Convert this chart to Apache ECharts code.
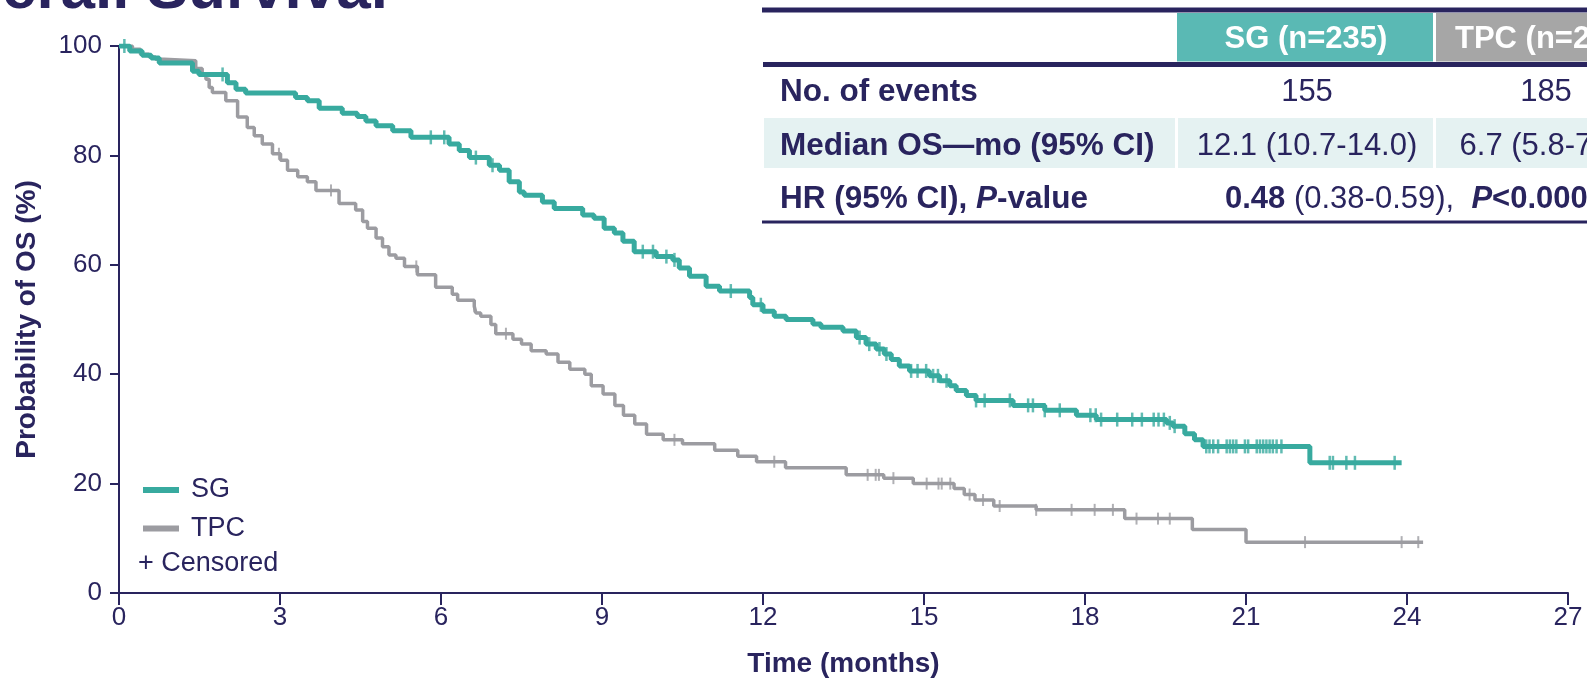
<!DOCTYPE html>
<html>
<head>
<meta charset="utf-8">
<script src="https://cdn.jsdelivr.net/npm/echarts@6/dist/echarts.min.js"></script>
<style>
html,body{margin:0;padding:0;background:#fff;}
#chart{width:1587px;height:683px;}
</style>
</head>
<body>
<div id="chart"></div>
<script>
// ---- data ----
var xTicks = [0, 3, 6, 9, 12, 15, 18, 21, 24, 27];
var yTicks = [0, 20, 40, 60, 80, 100];

var sgTime = [0, 0.2, 0.43, 0.6, 0.75, 1.37, 1.49, 2.02, 2.18, 2.36, 3.29, 3.51, 3.73, 4.16, 4.44, 4.6, 4.79, 5.1, 5.44, 6.15, 6.34, 6.53, 6.9, 7.09, 7.27, 7.46, 7.55, 7.89, 8.11, 8.64, 8.85, 9.04, 9.23, 9.39, 9.6, 10.01, 10.32, 10.44, 10.63, 10.94, 11.19, 11.75, 11.81, 12.0, 12.21, 12.43, 12.93, 13.08, 13.49, 13.74, 13.92, 14.11, 14.26, 14.39, 14.54, 14.73, 15.1, 15.29, 15.48, 15.6, 15.79, 15.97, 16.66, 17.25, 17.84, 18.21, 19.52, 19.64, 19.86, 20.04, 20.2, 22.19, 23.9];
var sgSurv = [100, 99.1, 98.3, 97.8, 96.9, 95.4, 94.8, 93.3, 92.1, 91.4, 90.6, 90.0, 88.6, 87.7, 87.1, 86.3, 85.4, 84.5, 83.3, 82.1, 80.9, 79.6, 78.2, 77.3, 75.2, 73.3, 72.7, 71.5, 70.3, 69.1, 68.5, 66.7, 65.8, 64.3, 62.4, 61.5, 60.9, 59.4, 57.9, 56.1, 55.2, 54.0, 52.7, 51.5, 50.6, 50.0, 49.2, 48.6, 47.9, 46.7, 45.5, 44.6, 43.7, 42.7, 41.5, 40.6, 39.7, 38.8, 37.9, 37.0, 36.1, 35.2, 34.3, 33.4, 32.5, 31.7, 31.1, 30.5, 29.1, 28.0, 26.8, 23.8, 23.8];

var tpcTime = [0, 0.25, 0.4, 0.56, 0.68, 0.84, 1.43, 1.55, 1.62, 1.68, 1.74, 1.99, 2.21, 2.39, 2.52, 2.67, 2.86, 3.01, 3.14, 3.33, 3.51, 3.67, 4.10, 4.41, 4.54, 4.63, 4.79, 4.91, 5.03, 5.16, 5.32, 5.56, 5.9, 6.21, 6.31, 6.62, 6.65, 6.74, 6.93, 7.02, 7.34, 7.5, 7.68, 7.96, 8.18, 8.4, 8.68, 8.8, 9.02, 9.24, 9.4, 9.61, 9.83, 10.14, 10.5, 11.1, 11.53, 11.88, 12.42, 13.55, 14.25, 14.8, 15.56, 15.75, 15.95, 16.3, 17.09, 18.74, 20.0, 21.0, 24.3];
var tpcSurv = [100, 99.4, 98.5, 98.0, 97.6, 97.3, 95.9, 94.8, 93.9, 92.4, 91.5, 90.0, 87.0, 85.1, 83.6, 82.1, 80.3, 79.1, 77.3, 76.1, 75.2, 73.6, 71.2, 70.0, 67.9, 66.7, 64.9, 63.3, 61.8, 61.2, 59.7, 58.2, 55.9, 54.6, 53.5, 52.4, 51.2, 50.6, 49.1, 47.4, 46.4, 45.5, 44.3, 43.7, 42.2, 40.9, 40.0, 37.9, 36.4, 34.3, 32.5, 30.9, 29.0, 28.0, 27.3, 26.1, 25.0, 24.0, 22.9, 21.6, 21.0, 20.0, 19.1, 18.0, 17.0, 15.9, 15.2, 13.6, 11.6, 9.3, 9.3];

var sgCensor = [0.1, 1.93, 5.81, 6.06, 6.65, 6.96, 9.76, 9.95, 10.2, 10.35, 11.4, 11.96, 13.8, 13.98, 14.17, 14.3, 14.76, 14.88, 15.04, 15.17, 15.26, 15.42, 15.97, 16.13, 16.6, 16.94, 17.03, 17.25, 17.53, 18.1, 18.2, 18.3, 18.6, 18.88, 19.06, 19.28, 19.37, 19.47, 19.58, 19.67, 20.26, 20.32, 20.39, 20.48, 20.64, 20.7, 20.76, 20.82, 20.98, 21.04, 21.2, 21.26, 21.32, 21.38, 21.44, 21.5, 21.57, 21.66, 22.56, 22.62, 22.87, 23.03, 23.77];
var tpcCensor = [2.98, 3.95, 5.54, 6.62, 7.21, 10.35, 12.21, 13.95, 14.1, 14.16, 14.43, 15.05, 15.27, 15.33, 15.49, 15.85, 16.1, 16.41, 17.09, 17.75, 18.18, 18.52, 18.96, 19.36, 19.58, 22.1, 23.9, 24.21];

var tableHead = ['SG (n=235)', 'TPC (n=247)'];
var rowLabels = ['No. of events', 'Median OS\u2014mo (95% CI)', 'HR (95% CI), P-value'];
var eventsVals = ['155', '185'];
var medianVals = ['12.1 (10.7-14.0)', '6.7 (5.8-7.7)'];
var hrVals = ['0.48', '(0.38-0.59),', 'P', '<0.0001'];

// ---- helpers ----
function zip(a, b) { return a.map(function (v, i) { return [v, b[i]]; }); }
function stepAt(times, surv, t) {
  var v = surv[0];
  for (var i = 0; i < times.length; i++) { if (times[i] <= t + 1e-9) v = surv[i]; else break; }
  return v;
}
function censorPts(ct, times, surv) { return ct.map(function (t) { return [t, stepAt(times, surv, t)]; }); }

var NAVY = '#29245e';
var TEAL = '#38aa9f';
var GREY = '#9c9ca1';
var FONT = 'Liberation Sans, Arial, Helvetica, sans-serif';

var chart = echarts.init(document.getElementById('chart'), null, {renderer: 'canvas'});

var g = [];
// title (cropped at top of the picture)
g.push({type: 'text', silent: true, style: {text: 'Overall Survival', x: 388, y: -9.5, align: 'right', verticalAlign: 'middle', font: 'bold 62px ' + FONT, fill: NAVY}});
// table
g.push({type: 'rect', silent: true, shape: {x: 762, y: 7.5, width: 830, height: 5}, style: {fill: NAVY}});
g.push({type: 'rect', silent: true, shape: {x: 1177, y: 13, width: 256, height: 48.5}, style: {fill: '#5ab9b4'}});
g.push({type: 'rect', silent: true, shape: {x: 1436, y: 13, width: 200, height: 48.5}, style: {fill: '#a6a6a6'}});
g.push({type: 'rect', silent: true, shape: {x: 763, y: 62, width: 830, height: 5}, style: {fill: NAVY}});
g.push({type: 'rect', silent: true, shape: {x: 764, y: 118, width: 411, height: 50}, style: {fill: '#e5f2f2'}});
g.push({type: 'rect', silent: true, shape: {x: 1178, y: 118, width: 255, height: 50}, style: {fill: '#e5f2f2'}});
g.push({type: 'rect', silent: true, shape: {x: 1436, y: 118, width: 200, height: 50}, style: {fill: '#e5f2f2'}});
g.push({type: 'rect', silent: true, shape: {x: 762, y: 220.5, width: 830, height: 3}, style: {fill: NAVY}});

g.push({type: 'text', silent: true, style: {text: tableHead[0], x: 1306, y: 39, align: 'center', verticalAlign: 'middle', font: 'bold 31px ' + FONT, fill: '#ffffff'}});
g.push({type: 'text', silent: true, style: {text: tableHead[1], x: 1545, y: 39, align: 'center', verticalAlign: 'middle', font: 'bold 31px ' + FONT, fill: '#ffffff'}});

g.push({type: 'text', silent: true, style: {text: rowLabels[0], x: 780, y: 92.5, align: 'left', verticalAlign: 'middle', font: 'bold 31.5px ' + FONT, fill: NAVY}});
g.push({type: 'text', silent: true, style: {text: rowLabels[1], x: 780, y: 146, align: 'left', verticalAlign: 'middle', font: 'bold 31.5px ' + FONT, fill: NAVY}});
g.push({type: 'text', silent: true, style: {
  text: '{b|HR (95% CI), }{bi|P}{b|-value}', x: 780, y: 199, align: 'left', verticalAlign: 'middle',
  rich: {b: {font: 'bold 31.5px ' + FONT, fill: NAVY}, bi: {font: 'italic bold 31.5px ' + FONT, fill: NAVY}}
}});

g.push({type: 'text', silent: true, style: {text: eventsVals[0], x: 1307, y: 92.5, align: 'center', verticalAlign: 'middle', font: '31px ' + FONT, fill: NAVY}});
g.push({type: 'text', silent: true, style: {text: eventsVals[1], x: 1546, y: 92.5, align: 'center', verticalAlign: 'middle', font: '31px ' + FONT, fill: NAVY}});
g.push({type: 'text', silent: true, style: {text: medianVals[0], x: 1307, y: 146, align: 'center', verticalAlign: 'middle', font: '31px ' + FONT, fill: NAVY}});
g.push({type: 'text', silent: true, style: {text: medianVals[1], x: 1544, y: 146, align: 'center', verticalAlign: 'middle', font: '31px ' + FONT, fill: NAVY}});
g.push({type: 'text', silent: true, style: {
  text: '{b|' + hrVals[0] + '}{r| ' + hrVals[1] + '  }{bi|' + hrVals[2] + '}{b|' + hrVals[3] + '}', x: 1225, y: 199, align: 'left', verticalAlign: 'middle',
  rich: {b: {font: 'bold 31px ' + FONT, fill: NAVY}, r: {font: '31px ' + FONT, fill: NAVY}, bi: {font: 'italic bold 31px ' + FONT, fill: NAVY}}
}});

// legend extra entry
g.push({type: 'text', silent: true, style: {text: '+ Censored', x: 138, y: 564, align: 'left', verticalAlign: 'middle', font: '27px ' + FONT, fill: NAVY}});

var option = {
  animation: false,
  backgroundColor: '#ffffff',
  textStyle: {fontFamily: FONT},
  grid: {left: 119, right: 19, top: 46, bottom: 85.5, containLabel: false},
  legend: {
    data: ['SG', 'TPC'], orient: 'vertical', left: 138, top: 471.5,
    icon: 'rect', itemWidth: 36, itemHeight: 6, itemGap: 11.5,
    textStyle: {fontSize: 27, lineHeight: 27, color: NAVY, fontFamily: FONT, padding: [0, 0, 0, 7]},
    selectedMode: false
  },
  xAxis: {
    type: 'value', min: xTicks[0], max: xTicks[xTicks.length - 1], interval: xTicks[1] - xTicks[0],
    name: 'Time (months)', nameLocation: 'middle', nameGap: 57,
    nameTextStyle: {fontWeight: 'bold', fontSize: 28, color: NAVY, fontFamily: FONT},
    axisLine: {show: true, lineStyle: {color: NAVY, width: 2}},
    axisTick: {show: true, length: 12, lineStyle: {color: NAVY, width: 2}},
    axisLabel: {fontSize: 26, color: NAVY, margin: 12, fontFamily: FONT},
    splitLine: {show: false}
  },
  yAxis: {
    type: 'value', min: yTicks[0], max: yTicks[yTicks.length - 1], interval: yTicks[1] - yTicks[0],
    name: 'Probability of OS (%)', nameLocation: 'middle', nameGap: 78,
    nameTextStyle: {fontWeight: 'bold', fontSize: 28, color: NAVY, fontFamily: FONT},
    axisLine: {show: true, lineStyle: {color: NAVY, width: 2}},
    axisTick: {show: true, length: 9, lineStyle: {color: NAVY, width: 2}},
    axisLabel: {fontSize: 26, color: NAVY, margin: 17, fontFamily: FONT},
    splitLine: {show: false}
  },
  series: [
    {name: 'TPC', type: 'line', step: 'end', data: zip(tpcTime, tpcSurv), showSymbol: false, silent: true,
     lineStyle: {color: GREY, width: 3.5}, itemStyle: {color: GREY}, z: 2},
    {name: 'TPC censored', type: 'scatter', data: censorPts(tpcCensor, tpcTime, tpcSurv), symbol: 'rect', symbolSize: [2, 12],
     itemStyle: {color: GREY}, silent: true, z: 2},
    {name: 'SG', type: 'line', step: 'end', data: zip(sgTime, sgSurv), showSymbol: false, silent: true,
     lineStyle: {color: TEAL, width: 5}, itemStyle: {color: TEAL}, z: 3},
    {name: 'SG censored', type: 'scatter', data: censorPts(sgCensor, sgTime, sgSurv), symbol: 'rect', symbolSize: [2.5, 14],
     itemStyle: {color: TEAL}, silent: true, z: 3}
  ],
  graphic: g
};
chart.setOption(option);
</script>
</body>
</html>
